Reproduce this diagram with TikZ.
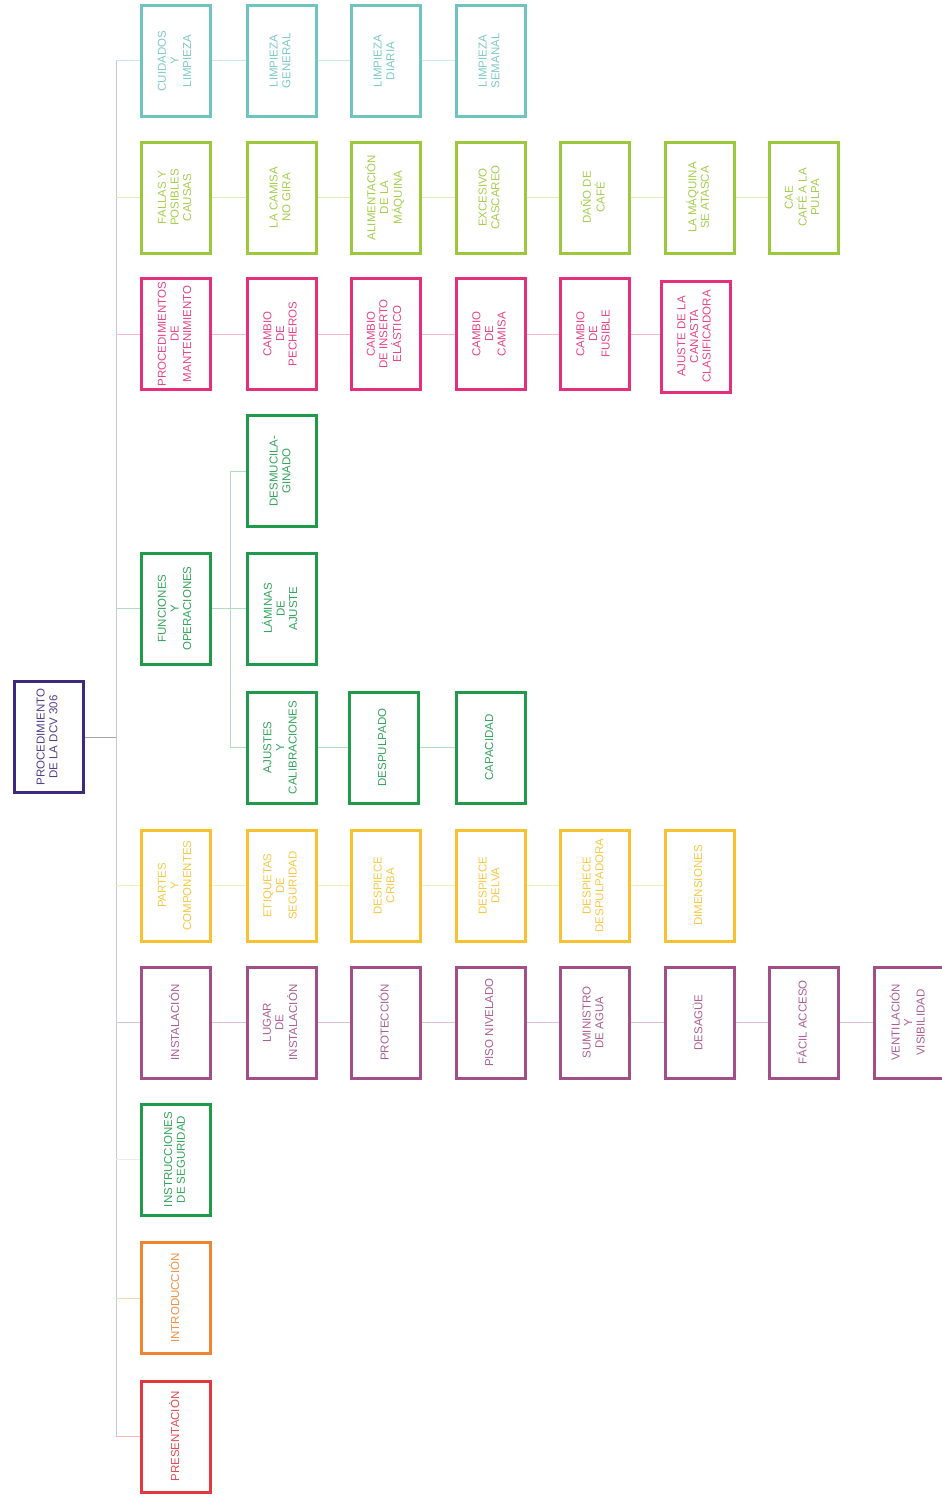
\documentclass[tikz,border=0pt]{standalone}
\usepackage{fontspec}
\setmainfont{Liberation Sans}
\usepackage{graphicx}
\definecolor{cRoot}{HTML}{3E2A7C}
\definecolor{cTeal}{HTML}{70C4BF}
\definecolor{cLime}{HTML}{9BC83C}
\definecolor{cPink}{HTML}{E4307B}
\definecolor{cGreen}{HTML}{1E9A4A}
\definecolor{cGold}{HTML}{F6C232}
\definecolor{cMauve}{HTML}{A24E87}
\definecolor{cOrange}{HTML}{EF8530}
\definecolor{cRed}{HTML}{E0383C}
\definecolor{cTrunk}{HTML}{C6C8D8}
\newcommand\vtext[1]{\rotatebox{90}{\begin{tabular}{@{}c@{}}#1\end{tabular}}}
\tikzset{
  box/.style={draw=#1, line width=3pt, minimum width=69pt, minimum height=111pt,
    inner sep=0pt, text=#1!90!white, font=\fontsize{11.5}{12.6}\selectfont},
  link/.style={draw=#1!35!white, line width=1pt},
  trunkline/.style={draw=cTrunk, line width=1pt},
  rootline/.style={draw=gray!70, line width=1pt}
}
\begin{document}
\begin{tikzpicture}[x=1pt,y=-1pt]
\useasboundingbox[fill=white] (0,0) rectangle (942,1496);
% root
\node[box=cRoot] (root) at (48.5,737) {\vtext{PROCEDIMIENTO\\DE LA DCV 306}};
% row 1
\node[box=cTeal] (cuid) at (176,61) {\vtext{CUIDADOS\\Y\\LIMPIEZA}};
\node[box=cTeal] (limg) at (281.5,61) {\vtext{LIMPIEZA\\GENERAL}};
\node[box=cTeal] (limd) at (385.5,61) {\vtext{LIMPIEZA\\DIARIA}};
\node[box=cTeal] (lims) at (490.5,61) {\vtext{LIMPIEZA\\SEMANAL}};
% row 2
\node[box=cLime] (fallas) at (176,197.5) {\vtext{FALLAS Y\\POSIBLES\\CAUSAS}};
\node[box=cLime] (camisa) at (281.5,197.5) {\vtext{LA CAMISA\\NO GIRA}};
\node[box=cLime] (alim) at (385.5,197.5) {\vtext{ALIMENTACIÓN\\DE LA\\MÁQUINA}};
\node[box=cLime] (exces) at (490.5,197.5) {\vtext{EXCESIVO\\CASCAREO}};
\node[box=cLime] (dano) at (594.5,197.5) {\vtext{DAÑO DE\\CAFÉ}};
\node[box=cLime] (atasca) at (699.5,197.5) {\vtext{LA MÁQUINA\\SE ATASCA}};
\node[box=cLime] (cae) at (803.5,197.5) {\vtext{CAE\\CAFÉ A LA\\PULPA}};
% row 3
\node[box=cPink] (proc) at (176,334) {\vtext{PROCEDIMIENTOS\\DE\\MANTENIMIENTO}};
\node[box=cPink] (pech) at (281.5,334) {\vtext{CAMBIO\\DE\\PECHEROS}};
\node[box=cPink] (inserto) at (385.5,334) {\vtext{CAMBIO\\DE INSERTO\\ELÁSTICO}};
\node[box=cPink] (camb) at (490.5,334) {\vtext{CAMBIO\\DE\\CAMISA}};
\node[box=cPink] (fusible) at (594.5,334) {\vtext{CAMBIO\\DE\\FUSIBLE}};
\node[box=cPink] (canasta) at (695.5,336.5) {\vtext{AJUSTE DE LA\\CANASTA\\CLASIFICADORA}};
% funciones
\node[box=cGreen] (func) at (176,608.5) {\vtext{FUNCIONES\\Y\\OPERACIONES}};
\node[box=cGreen] (desm) at (281.5,471) {\vtext{DESMUCILA-\\GINADO}};
\node[box=cGreen] (lam) at (281.5,608.5) {\vtext{LÁMINAS\\DE\\AJUSTE}};
\node[box=cGreen] (ajus) at (281.5,747.5) {\vtext{AJUSTES\\Y\\CALIBRACIONES}};
\node[box=cGreen] (desp) at (383.5,747.5) {\vtext{DESPULPADO}};
\node[box=cGreen] (capa) at (490.5,747.5) {\vtext{CAPACIDAD}};
% partes
\node[box=cGold] (partes) at (176,885.5) {\vtext{PARTES\\Y\\COMPONENTES}};
\node[box=cGold] (etiq) at (281.5,885.5) {\vtext{ETIQUETAS\\DE\\SEGURIDAD}};
\node[box=cGold] (criba) at (385.5,885.5) {\vtext{DESPIECE\\CRIBA}};
\node[box=cGold] (delva) at (490.5,885.5) {\vtext{DESPIECE\\DELVA}};
\node[box=cGold] (despd) at (594.5,885.5) {\vtext{DESPIECE\\DESPULPADORA}};
\node[box=cGold] (dimen) at (699.5,885.5) {\vtext{DIMENSIONES}};
% instalacion
\node[box=cMauve] (inst) at (176,1022.5) {\vtext{INSTALACIÓN}};
\node[box=cMauve] (lugar) at (281.5,1022.5) {\vtext{LUGAR\\DE\\INSTALACIÓN}};
\node[box=cMauve] (prot) at (385.5,1022.5) {\vtext{PROTECCIÓN}};
\node[box=cMauve] (piso) at (490.5,1022.5) {\vtext{PISO NIVELADO}};
\node[box=cMauve] (sumin) at (594.5,1022.5) {\vtext{SUMINISTRO\\DE AGUA}};
\node[box=cMauve] (desag) at (699.5,1022.5) {\vtext{DESAGÜE}};
\node[box=cMauve] (facil) at (803.5,1022.5) {\vtext{FÁCIL ACCESO}};
\node[box=cMauve] (vent) at (909,1022.5) {\vtext{VENTILACIÓN\\Y\\VISIBILIDAD}};
% others
\node[box=cGreen] (instr) at (176,1159.5) {\vtext{INSTRUCCIONES\\DE SEGURIDAD}};
\node[box=cOrange] (intro) at (176,1298) {\vtext{INTRODUCCIÓN}};
\node[box=cRed] (pres) at (176,1436.5) {\vtext{PRESENTACIÓN}};
% trunk
\coordinate (t1) at (116,61);
\coordinate (t2) at (116,1436.5);
\draw[trunkline] (t1) -- (t2);
\draw[rootline] (root) -- (root -| t1);
\foreach \n/\c in {cuid/cTeal,fallas/cLime,proc/cPink,func/cGreen,partes/cGold,inst/cMauve,instr/cTrunk,intro/cOrange,pres/cRed}
  \draw[link=\c] (t1 |- \n) -- (\n);
% sub trunk of funciones
\coordinate (s1) at (230,471);
\coordinate (s2) at (230,747.5);
\draw[link=cGreen] (s1) -- (s2);
\draw[link=cGreen] (func) -- (func -| s1);
\foreach \n in {desm,lam,ajus} \draw[link=cGreen] (s1 |- \n) -- (\n);
% row chains
\foreach \a/\b in {cuid/limg,limg/limd,limd/lims} \draw[link=cTeal] (\a) -- (\b);
\foreach \a/\b in {fallas/camisa,camisa/alim,alim/exces,exces/dano,dano/atasca,atasca/cae} \draw[link=cLime] (\a) -- (\b);
\foreach \a/\b in {proc/pech,pech/inserto,inserto/camb,camb/fusible} \draw[link=cPink] (\a) -- (\b);
\draw[link=cPink] (fusible) -- (fusible -| canasta.west);
\foreach \a/\b in {ajus/desp,desp/capa} \draw[link=cGreen] (\a) -- (\b);
\foreach \a/\b in {partes/etiq,etiq/criba,criba/delva,delva/despd,despd/dimen} \draw[link=cGold] (\a) -- (\b);
\foreach \a/\b in {inst/lugar,lugar/prot,prot/piso,piso/sumin,sumin/desag,desag/facil,facil/vent} \draw[link=cMauve] (\a) -- (\b);
\end{tikzpicture}
\end{document}
